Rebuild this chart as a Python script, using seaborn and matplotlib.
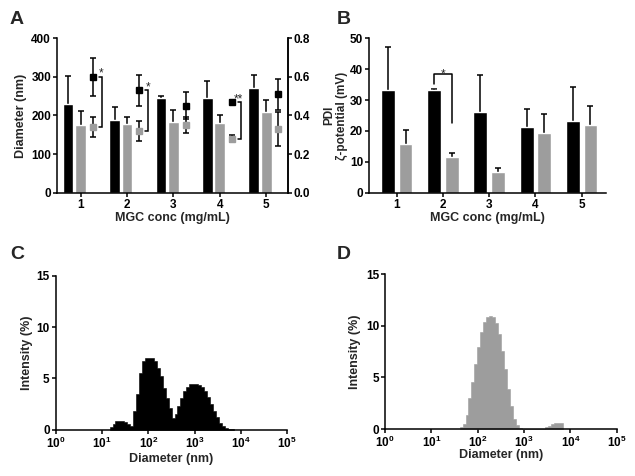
import numpy as np
import pandas as pd
import matplotlib
matplotlib.use("Agg")
import matplotlib.pyplot as plt
from matplotlib.ticker import NullLocator
import seaborn as sns

# MGC concentration groups (mg/mL)
conc = [1, 2, 3, 4, 5]

# A: particle diameter (nm) and PDI, black / gray series
diam_black = [230, 187, 244, 245, 271]
diam_black_sd = [73, 35, 6, 45, 33]
diam_gray = [176, 179, 184, 181, 210]
diam_gray_sd = [36, 18, 29, 21, 29]
pdi_black = [0.60, 0.53, 0.45, 0.47, 0.51]
pdi_black_sd = [0.10, 0.08, 0.07, 0.01, 0.08]
pdi_gray = [0.34, 0.32, 0.35, 0.28, 0.33]
pdi_gray_sd = [0.05, 0.05, 0.04, 0.017, 0.09]
pdi_sig_groups = [1, 2, 4]
pdi_sig_labels = ["*", "*", "**"]

# B: zeta potential (mV)
zeta_black = [33.2, 33.2, 26.2, 21.3, 23.3]
zeta_black_sd = [13.9, 0.3, 11.9, 5.8, 10.8]
zeta_gray = [15.8, 11.7, 6.7, 19.3, 22.0]
zeta_gray_sd = [4.5, 1.3, 1.2, 6.1, 6.0]

# C: DLS intensity distribution, black sample
sizes_c = [15.69, 18.17, 21.04, 24.36, 28.21, 32.67, 37.84, 43.82, 50.75, 58.77,
           68.06, 78.82, 91.28, 105.7, 122.4, 141.8, 164.2, 190.1, 220.2, 255.0,
           295.3, 342.0, 396.1, 458.7, 531.2, 615.1, 712.4, 825.0, 955.4, 1106,
           1281, 1484, 1718, 1990, 2305, 2669, 3091, 3580, 4145, 4801, 5560, 6439]
intensity_c = [0.25, 0.6, 0.8, 0.85, 0.85, 0.75, 0.55, 0.35, 1.8, 3.5,
               5.5, 6.7, 6.95, 7.0, 6.95, 6.7, 6.0, 5.2, 4.1, 3.1,
               2.1, 1.1, 1.5, 2.3, 3.1, 3.8, 4.2, 4.45, 4.5, 4.5,
               4.4, 4.2, 3.8, 3.2, 2.5, 1.8, 1.2, 0.7, 0.4, 0.2, 0.1, 0.05]

# D: DLS intensity distribution, gray sample
sizes_d = [43.82, 50.75, 58.77, 68.06, 78.82, 91.28, 105.7, 122.4, 141.8, 164.2,
           190.1, 220.2, 255.0, 295.3, 342.0, 396.1, 458.7, 531.2, 615.1, 712.4,
           825.0, 955.4, 1106, 1281, 1484, 1718, 1990, 2305, 2669, 3091,
           3580, 4145, 4801, 5560, 6439]
intensity_d = [0.15, 0.5, 1.4, 3.0, 4.6, 6.3, 8.0, 9.4, 10.4, 10.9,
               11.0, 10.9, 10.3, 9.2, 7.6, 5.8, 3.9, 2.2, 1.0, 0.4,
               0.1, 0, 0, 0, 0, 0, 0, 0, 0.05, 0.15,
               0.3, 0.45, 0.55, 0.6, 0.6]

BLACK = "#000000"
GRAY = "#9d9d9d"

sns.set_style("ticks")
plt.rcParams["font.family"] = ["Liberation Sans", "DejaVu Sans"]
plt.rcParams["font.weight"] = "bold"
plt.rcParams["axes.labelweight"] = "bold"
plt.rcParams["mathtext.fontset"] = "custom"
plt.rcParams["mathtext.rm"] = "Liberation Sans:bold"
plt.rcParams["mathtext.bf"] = "Liberation Sans:bold"
plt.rcParams["mathtext.it"] = "Liberation Sans:bold:italic"


def style_axis(ax):
    for s in ax.spines.values():
        s.set_linewidth(1.1)
        s.set_color("black")
    ax.tick_params(axis="both", which="major", direction="out", length=2.8,
                   width=1.1, pad=1.5, labelsize=8.5, colors="black")
    ax.tick_params(axis="both", which="minor", length=0)
    for lab in ax.get_xticklabels() + ax.get_yticklabels():
        lab.set_fontweight("bold")


def bars_with_sd(ax, xpos, vals, sd, color, width):
    # error bar sits behind the bar so only the upper whisker shows
    ax.errorbar(xpos, vals, yerr=sd, fmt="none", ecolor="black",
                elinewidth=1.1, capsize=2, capthick=1.1, zorder=1)
    ax.bar(xpos, vals, width, color=color, zorder=2)


fig = plt.figure(figsize=(6.35, 4.76), dpi=100)
axA = fig.add_axes([0.0898, 0.5952, 0.363, 0.3244])
axB = fig.add_axes([0.5811, 0.5952, 0.3728, 0.3244])
axC = fig.add_axes([0.0877, 0.0973, 0.3647, 0.3229])
axD = fig.add_axes([0.6063, 0.0987, 0.3649, 0.3250])

x = np.array(conc, dtype=float)

# ---- A ----
bars_with_sd(axA, x - 0.27, diam_black, diam_black_sd, BLACK, 0.23)
bars_with_sd(axA, x, diam_gray, diam_gray_sd, GRAY, 0.23)
axA.set_ylim(0, 400)
axA.set_yticks([0, 100, 200, 300, 400])
axA.set_xlim(0.49, 5.46)
axA.set_xticks(conc)
axA.set_xlabel("MGC conc (mg/mL)", fontsize=9, fontweight="bold")
axA.set_ylabel("Diameter (nm)", fontsize=9, fontweight="bold")
axA.xaxis.set_label_coords(0.5, -0.125)
axA.yaxis.set_label_coords(-0.13, 0.5)
axA.spines["top"].set_visible(False)

axA2 = axA.twinx()
axA2.errorbar(x + 0.265, pdi_gray, yerr=pdi_gray_sd, fmt="s", color=GRAY,
              markersize=4, ecolor="black", elinewidth=1.1, capsize=2.2,
              capthick=1.1, zorder=3)
axA2.errorbar(x + 0.265, pdi_black, yerr=pdi_black_sd, fmt="s", color=BLACK,
              markersize=4, ecolor="black", elinewidth=1.1, capsize=2.2,
              capthick=1.1, zorder=3)
axA2.set_ylim(0, 0.8)
axA2.set_yticks([0.0, 0.2, 0.4, 0.6, 0.8])
axA2.set_yticklabels(["0.0", "0.2", "0.4", "0.6", "0.8"])
axA2.set_ylabel("PDI", fontsize=8.5, fontweight="bold", rotation=90)
axA2.yaxis.set_label_coords(1.153, 0.5)
axA2.spines["top"].set_visible(False)
star_dx = {"*": 0.0, "**": -0.06}
for g, lab in zip(pdi_sig_groups, pdi_sig_labels):
    i = conc.index(g)
    xv = g + 0.45
    axA2.plot([xv - 0.06, xv, xv, xv - 0.06],
              [pdi_black[i], pdi_black[i], pdi_gray[i], pdi_gray[i]],
              color="black", lw=1.1, solid_joinstyle="miter")
    axA2.text(xv + star_dx[lab], pdi_black[i], lab, ha="center", va="baseline",
              fontsize=8.5, fontweight="normal")
style_axis(axA)
style_axis(axA2)
axA2.spines["left"].set_visible(False)
axA2.spines["bottom"].set_visible(False)

# ---- B ----
bars_with_sd(axB, x - 0.19, zeta_black, zeta_black_sd, BLACK, 0.30)
bars_with_sd(axB, x + 0.19, zeta_gray, zeta_gray_sd, GRAY, 0.30)
axB.set_ylim(0, 50)
axB.set_yticks([0, 10, 20, 30, 40, 50])
axB.set_xlim(0.40, 5.52)
axB.set_xticks(conc)
axB.set_xlabel("MGC conc (mg/mL)", fontsize=9, fontweight="bold")
axB.set_ylabel("ζ-potential (mV)", fontsize=8.5, fontweight="bold")
axB.xaxis.set_label_coords(0.5, -0.125)
axB.yaxis.set_label_coords(-0.088, 0.5)
sns.despine(ax=axB)
i = conc.index(2)
top_y = 38.3
axB.plot([2 - 0.19, 2 - 0.19, 2 + 0.19, 2 + 0.19],
         [zeta_black[i] + 2.1, top_y, top_y, zeta_gray[i] + 10.8],
         color="black", lw=1.1)
axB.text(2.0, top_y - 1.0, "*", ha="center", va="baseline", fontsize=8.5,
         fontweight="normal")
style_axis(axB)


# ---- C / D ----
def dls_panel(ax, sizes, intens, color):
    df = pd.DataFrame({"size": sizes, "intensity": intens})
    logs = np.log10(sizes)
    step = np.diff(logs).mean()
    sns.histplot(data=df, x="size", weights="intensity", log_scale=True,
                 binwidth=step, binrange=(logs[0] - step / 2, logs[-1] + step / 2),
                 element="step", fill=True, color=color, edgecolor=color,
                 alpha=1, linewidth=0.4, ax=ax)
    ax.set_xlim(1, 1e5)
    ax.set_xticks([1, 10, 100, 1e3, 1e4, 1e5])
    ax.xaxis.set_minor_locator(NullLocator())
    ax.set_ylim(0, 15)
    ax.set_yticks([0, 5, 10, 15])
    ax.set_xlabel("Diameter (nm)", fontsize=9, fontweight="bold")
    ax.set_ylabel("Intensity (%)", fontsize=9, fontweight="bold")
    sns.despine(ax=ax)
    style_axis(ax)


dls_panel(axC, sizes_c, intensity_c, BLACK)
axC.xaxis.set_label_coords(0.5, -0.15)
axC.yaxis.set_label_coords(-0.098, 0.5)
dls_panel(axD, sizes_d, intensity_d, GRAY)
axD.xaxis.set_label_coords(0.5, -0.13)
axD.yaxis.set_label_coords(-0.104, 0.5)

for lab, xf, yf in [("A", 10, 24), ("B", 337, 24), ("C", 10, 259), ("D", 337, 259)]:
    fig.text(xf / 635, 1 - yf / 476, lab, fontsize=14, fontweight="bold",
             ha="left", va="baseline")

fig.savefig("out.png", dpi=100)
